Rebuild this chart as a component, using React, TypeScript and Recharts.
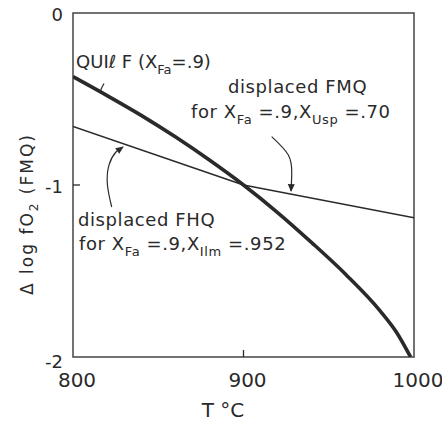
import { LineChart, Line, XAxis, YAxis, ReferenceArea, ReferenceDot } from "recharts";

// temperature (°C) and Δ log fO2 relative to FMQ
const quilfT = [800, 820, 840, 860, 880, 900, 920, 940, 960, 980, 990, 998];
const quilfLogFO2 = [-0.37, -0.48, -0.595, -0.72, -0.855, -1.0, -1.16, -1.335, -1.52, -1.73, -1.86, -2.0];

const fhqT = [800, 900];
const fhqLogFO2 = [-0.66, -1.0];

const fmqT = [900, 1000];
const fmqLogFO2 = [-1.0, -1.19];

// leader arrows (label -> curve)
const quilfPointerT = [818.2, 816.6, 815.8];
const quilfPointerV = [-0.41, -0.44, -0.465];
const fmqArrowT = [916.5, 926.3, 928.3, 927.9];
const fmqArrowV = [-0.719, -0.826, -0.932, -1.035];
const fhqArrowT = [822.7, 820.2, 821.1, 825.2, 829.3];
const fhqArrowV = [-1.128, -1.0, -0.884, -0.808, -0.779];

const xTicks = [800, 900, 1000];
const yTicks = [0, -1, -2];

type Part = [string, boolean?];
const notes: { t: number; v: number; parts: Part[]; ls?: number }[] = [
  { t: 801.8, v: -0.32, parts: [["QUIℓ F (X"], ["Fa", true], ["=.9)"]], ls: 0 },
  { t: 890.9, v: -0.465, parts: [["displaced FMQ"]] },
  { t: 869.2, v: -0.61, parts: [["for X"], ["Fa", true], [" =.9,X"], ["Usp", true], [" =.70"]] },
  { t: 802.9, v: -1.238, parts: [["displaced FHQ"]] },
  { t: 803.5, v: -1.378, parts: [["for X"], ["Fa", true], [" =.9,X"], ["Ilm", true], [" =.952"]] },
];

const zip = (t: number[], v: number[]) => t.map((x, i) => ({ t: x, v: v[i] }));

const INK = "#2a2a2a";
const FONT = "'DejaVu Sans', sans-serif";

function Parts({ x, y, parts, size = 18, sub = 13, ls = 0.6 }: any) {
  let prevSub = false;
  return (
    <text x={x} y={y} fontSize={size} fill={INK} fontFamily={FONT} letterSpacing={ls}>
      {parts.map(([s, isSub]: Part, i: number) => {
        const dy = isSub && !prevSub ? 6 : !isSub && prevSub ? -6 : 0;
        prevSub = !!isSub;
        return (
          <tspan key={i} dy={dy} fontSize={isSub ? sub : size}>
            {s}
          </tspan>
        );
      })}
    </text>
  );
}

const arrowDot = (len: number, angle: number) => (p: any) => {
  if (p.index !== len - 1) return <g key={p.index} />;
  return (
    <path
      key={p.index}
      d="M1,0 L-7,-3.5 L-7,3.5 Z"
      fill={INK}
      transform={`translate(${p.cx},${p.cy}) rotate(${angle})`}
    />
  );
};

function XTick({ x, y, payload }: any) {
  return (
    <g>
      <text x={x + 4} y={y + 30} textAnchor="middle" fontSize={20} fill={INK} fontFamily={FONT}>
        {payload.value}
      </text>
      {payload.value === 900 && <line x1={x} x2={x} y1={y} y2={y - 7} stroke={INK} strokeWidth={1.3} />}
    </g>
  );
}

function YTick({ x, y, payload }: any) {
  const v = payload.value;
  const dy = v === 0 ? 8 : v === -2 ? 11 : 8;
  return (
    <g>
      <text x={x - 10} y={y + dy} textAnchor="end" fontSize={18} fill={INK} fontFamily={FONT}>
        {v === 0 ? "0" : `-${Math.abs(v)}`}
      </text>
      {v === -1 && <line x1={x} x2={x + 7} y1={y} y2={y} stroke={INK} strokeWidth={1.3} />}
    </g>
  );
}

export default function App() {
  return (
    <div style={{ position: "absolute", left: 0, top: 0, background: "#fff" }}>
      <LineChart width={442} height={421} margin={{ top: 13, right: 28, left: 0, bottom: 0 }}>
        <XAxis
          type="number"
          dataKey="t"
          domain={[800, 1000]}
          ticks={xTicks}
          height={64}
          axisLine={false}
          tickLine={false}
          tickSize={0}
          tickMargin={0}
          tick={<XTick />}
          allowDataOverflow
          label={{
            content: (p: any) => (
              <text
                x={p.viewBox.x + 150}
                y={p.viewBox.y + 60}
                textAnchor="middle"
                fontSize={20}
                fill={INK}
                fontFamily={FONT}
              >
                T °C
              </text>
            ),
          }}
        />
        <YAxis
          type="number"
          domain={[-2, 0]}
          ticks={yTicks}
          width={73}
          axisLine={false}
          tickLine={false}
          tickSize={0}
          tickMargin={0}
          tick={<YTick />}
          allowDataOverflow
          label={{
            content: () => (
              <text
                transform="translate(33,214) rotate(-90)"
                textAnchor="middle"
                fontSize={17}
                fill={INK}
                fontFamily={FONT}
                letterSpacing={2}
              >
                <tspan>Δ log fO</tspan>
                <tspan dy={5} fontSize={12}>2</tspan>
                <tspan dy={-5}> (FMQ)</tspan>
              </text>
            ),
          }}
        />
        <ReferenceArea x1={800} x2={1000} y1={-2} y2={0} fill="none" stroke="#444" strokeWidth={1.5} />

        <Line data={zip(fhqT, fhqLogFO2)} dataKey="v" type="linear" stroke={INK} strokeWidth={1.5} dot={false} isAnimationActive={false} />
        <Line data={zip(fmqT, fmqLogFO2)} dataKey="v" type="linear" stroke={INK} strokeWidth={1.5} dot={false} isAnimationActive={false} />
        <Line data={zip(quilfT, quilfLogFO2)} dataKey="v" type="monotone" stroke={INK} strokeWidth={3.6} dot={false} isAnimationActive={false} />

        <Line data={zip(quilfPointerT, quilfPointerV)} dataKey="v" type="natural" stroke={INK} strokeWidth={1.2} dot={false} isAnimationActive={false} />
        <Line
          data={zip(fmqArrowT, fmqArrowV)}
          dataKey="v"
          type="natural"
          stroke={INK}
          strokeWidth={1.2}
          dot={arrowDot(fmqArrowT.length, 92)}
          isAnimationActive={false}
        />
        <Line
          data={zip(fhqArrowT, fhqArrowV)}
          dataKey="v"
          type="natural"
          stroke={INK}
          strokeWidth={1.2}
          dot={arrowDot(fhqArrowT.length, -35)}
          isAnimationActive={false}
        />

        {notes.map((n, i) => (
          <ReferenceDot
            key={i}
            x={n.t}
            y={n.v}
            r={0}
            fill="none"
            stroke="none"
            label={{
              content: (p: any) => (
                <Parts
                  x={p.viewBox.x + p.viewBox.width / 2}
                  y={p.viewBox.y + p.viewBox.height / 2}
                  parts={n.parts}
                  ls={n.ls ?? 0.6}
                />
              ),
            }}
          />
        ))}
      </LineChart>
    </div>
  );
}
